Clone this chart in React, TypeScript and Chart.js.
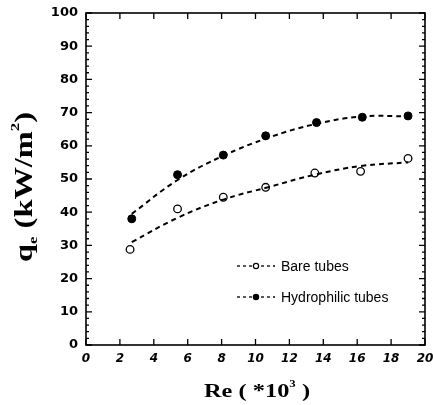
import React, { useEffect, useRef } from "react";
import { Chart, registerables } from "chart.js";

Chart.register(...registerables);

const reHydro = [2.7, 5.4, 8.1, 10.6, 13.6, 16.3, 19.0];
const qHydro = [38.0, 51.3, 57.2, 63.0, 67.0, 68.6, 69.0];
const reBare = [2.6, 5.4, 8.1, 10.6, 13.5, 16.2, 19.0];
const qBare = [28.8, 41.0, 44.5, 47.5, 51.8, 52.3, 56.2];

const fitRe = [2.7, 5.4, 8.1, 10.8, 13.5, 16.2, 19.0];
const fitHydro = [39.5, 49.7, 57.0, 62.5, 66.5, 68.8, 68.9];
const fitBare = [31.0, 38.3, 43.8, 47.6, 51.3, 53.9, 55.0];

const xTicks = [0, 2, 4, 6, 8, 10, 12, 14, 16, 18, 20];
const yTicks = [0, 10, 20, 30, 40, 50, 60, 70, 80, 90, 100];

const legendLabels = ["Bare tubes", "Hydrophilic tubes"];

const SERIF = "'Liberation Serif', 'Times New Roman', serif";

function drawStretched(ctx: any, parts: any[], cx: number, cy: number, targetW: number) {
  let total = 0;
  for (const p of parts) {
    ctx.font = p.f;
    total += ctx.measureText(p.t).width;
  }
  const k = targetW / total;
  ctx.save();
  ctx.translate(cx, cy);
  ctx.scale(k, 1);
  let px = -total / 2;
  for (const p of parts) {
    ctx.font = p.f;
    ctx.fillText(p.t, px, p.dy);
    px += ctx.measureText(p.t).width;
  }
  ctx.restore();
}

const framePlugin = {
  id: "frame",
  afterDraw(chart: any) {
    const { ctx, chartArea: a, scales } = chart;
    const xs = scales.x;
    const ys = scales.y;
    ctx.save();
    ctx.strokeStyle = "#000";
    ctx.lineWidth = 1.6;
    ctx.strokeRect(a.left, a.top, a.right - a.left, a.bottom - a.top);
    ctx.lineWidth = 1.3;
    ctx.beginPath();
    for (let v = 0; v <= 100; v += 2) {
      const y = ys.getPixelForValue(v);
      const len = v % 10 === 0 ? 6 : 3;
      ctx.moveTo(a.left, y);
      ctx.lineTo(a.left + len, y);
      ctx.moveTo(a.right, y);
      ctx.lineTo(a.right - len, y);
    }
    for (const v of xTicks) {
      const x = xs.getPixelForValue(v);
      ctx.moveTo(x, a.bottom);
      ctx.lineTo(x, a.bottom - 6);
      ctx.moveTo(x, a.top);
      ctx.lineTo(x, a.top + 6);
    }
    ctx.stroke();

    // legend
    const items = [
      { label: legendLabels[0], fill: "#fff", y: a.top + 253 },
      { label: legendLabels[1], fill: "#000", y: a.top + 284 },
    ];
    ctx.font = "14px 'Liberation Sans', Arial, sans-serif";
    ctx.textBaseline = "middle";
    ctx.textAlign = "left";
    for (const it of items) {
      const x0 = a.left + 151;
      ctx.setLineDash([3, 3]);
      ctx.lineWidth = 1.3;
      ctx.beginPath();
      ctx.moveTo(x0, it.y);
      ctx.lineTo(x0 + 38, it.y);
      ctx.stroke();
      ctx.setLineDash([]);
      ctx.beginPath();
      ctx.arc(x0 + 19, it.y, 2.6, 0, Math.PI * 2);
      ctx.fillStyle = it.fill;
      ctx.fill();
      ctx.lineWidth = 1.2;
      ctx.stroke();
      ctx.fillStyle = "#000";
      ctx.fillText(it.label, x0 + 44, it.y + 1);
    }

    // axis titles
    ctx.fillStyle = "#000";
    ctx.textBaseline = "alphabetic";
    ctx.textAlign = "left";
    drawStretched(
      ctx,
      [
        { t: "Re ( *10", f: `bold 19px ${SERIF}`, dy: 0 },
        { t: "3", f: `bold 10px ${SERIF}`, dy: -10 },
        { t: " )", f: `bold 19px ${SERIF}`, dy: 0 },
      ],
      257,
      397,
      106
    );

    ctx.save();
    ctx.translate(32, 187);
    ctx.rotate(-Math.PI / 2);
    drawStretched(
      ctx,
      [
        { t: "q", f: `bold 25px ${SERIF}`, dy: 0 },
        { t: "e", f: `bold 13px ${SERIF}`, dy: 5 },
        { t: " (kW/m", f: `bold 25px ${SERIF}`, dy: 0 },
        { t: "2", f: `bold 13px ${SERIF}`, dy: -13 },
        { t: ")", f: `bold 25px ${SERIF}`, dy: 0 },
      ],
      0,
      0,
      150
    );
    ctx.restore();
    ctx.restore();
  },
};

export default function App() {
  const ref = useRef<HTMLCanvasElement>(null);
  useEffect(() => {
    const toPts = (xs: number[], ys: number[]) => xs.map((x, i) => ({ x, y: ys[i] }));
    const chart = new Chart(ref.current!, {
      type: "scatter",
      data: {
        datasets: [
          {
            label: "fitBare",
            data: toPts(fitRe, fitBare),
            showLine: true,
            borderColor: "#000",
            borderWidth: 2,
            borderDash: [5, 4],
            pointRadius: 0,
            tension: 0.4,
          },
          {
            label: "fitHydro",
            data: toPts(fitRe, fitHydro),
            showLine: true,
            borderColor: "#000",
            borderWidth: 2,
            borderDash: [5, 4],
            pointRadius: 0,
            tension: 0.4,
          },
          {
            label: legendLabels[0],
            data: toPts(reBare, qBare),
            pointRadius: 3.8,
            pointBackgroundColor: "#fff",
            pointBorderColor: "#000",
            pointBorderWidth: 1.3,
          },
          {
            label: legendLabels[1],
            data: toPts(reHydro, qHydro),
            pointRadius: 4,
            pointBackgroundColor: "#000",
            pointBorderColor: "#000",
            pointBorderWidth: 1,
          },
        ],
      },
      options: {
        animation: false,
        responsive: false,
        layout: { padding: { left: 0, right: 8, top: 13, bottom: 0 } },
        plugins: { legend: { display: false }, tooltip: { enabled: false } },
        scales: {
          x: {
            type: "linear",
            min: 0,
            max: 20,
            afterBuildTicks: (s: any) => {
              s.ticks = xTicks.map((v) => ({ value: v }));
            },
            afterFit: (s: any) => {
              s.height = 60;
              s.paddingLeft = 0;
              s.paddingRight = 0;
            },
            grid: { display: false, drawTicks: false },
            border: { display: false },
            ticks: {
              color: "#000",
              padding: 7,
              maxRotation: 0,
              font: { family: "'DejaVu Sans', sans-serif", size: 12, weight: "bold", style: "italic" },
            },
          },
          y: {
            type: "linear",
            min: 0,
            max: 100,
            afterBuildTicks: (s: any) => {
              s.ticks = yTicks.map((v) => ({ value: v }));
            },
            afterFit: (s: any) => {
              s.width = 86;
              s.paddingTop = 0;
              s.paddingBottom = 0;
            },
            grid: { display: false, drawTicks: false },
            border: { display: false },
            ticks: {
              color: "#000",
              padding: 8,
              font: { family: "'DejaVu Sans', sans-serif", size: 13, weight: "bold" },
            },
          },
        },
      },
      plugins: [framePlugin],
    });
    return () => chart.destroy();
  }, []);
  return (
    <div style={{ position: "absolute", left: 0, top: 0, width: 433, height: 405, background: "#fff" }}>
      <canvas ref={ref} width={433} height={405} style={{ width: 433, height: 405 }} />
    </div>
  );
}
